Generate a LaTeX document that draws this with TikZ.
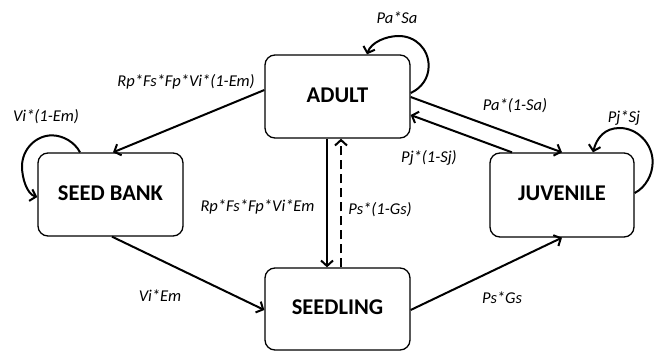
\documentclass[tikz,border=0pt]{standalone}
\usepackage{fontspec}
\setmainfont{Carlito}
\usetikzlibrary{arrows.meta}
\newcommand{\mystatetext}[1]{\raisebox{3pt}{#1}}
\tikzset{
  statebox/.style={draw=black, line width=1.3pt, rounded corners=10pt, fill=white,
    minimum width=145pt, minimum height=83pt, inner sep=0pt,
    font=\fontsize{22.5}{24}\selectfont\bfseries},
  rate/.style={font=\fontsize{16.5}{18}\selectfont\itshape, inner sep=0pt},
  flow/.style={line width=2pt, -{Straight Barb[length=5.5pt,width=12pt]}},
}
\begin{document}
\begin{tikzpicture}[x=1pt,y=-1pt]
\useasboundingbox (0,0) rectangle (657,351);
% boxes
\node[statebox] (adult) at (337.5,96.5) {\mystatetext{ADULT}};
\node[statebox] (seedbank) at (110.5,194.5) {\mystatetext{SEED BANK}};
\node[statebox, minimum width=144pt, minimum height=84pt] (juvenile) at (562,195) {\mystatetext{JUVENILE}};
\node[statebox, minimum height=82pt] (seedling) at (337.5,309) {\mystatetext{SEEDLING}};
% connectors
\draw[flow] ([yshift=6.5pt]adult.west) -- ([xshift=2.5pt]seedbank.north);
\draw[flow] ([yshift=-0.5pt]adult.east) -- (juvenile.north);
\draw[flow] ([xshift=-50pt]juvenile.north) -- ([yshift=-18.5pt]adult.east);
\draw[flow] ([xshift=-10.5pt]adult.south) -- ([xshift=-10.5pt]seedling.north);
\draw[flow, dashed, dash pattern=on 9pt off 5pt] ([xshift=3.5pt]seedling.north) -- ([xshift=3.5pt]adult.south);
\draw[flow] ([xshift=1.5pt]seedbank.south) -- ([yshift=-1pt]seedling.west);
\draw[flow] ([yshift=-1pt]seedling.east) -- (juvenile.south);
% self loops
\draw[flow] ([yshift=3.5pt]adult.east)
   .. controls +(11,-5) and +(0,12) .. ++(18,-27)
   .. controls +(0,-17) and +(17,0) .. ++(-30,-30)
   .. controls +(-12.6,0) and +(4,-12) .. ([xshift=29.5pt]adult.north);
\draw[flow] ([xshift=-30.5pt]seedbank.north)
   .. controls +(-5,-10) and +(11,0) .. ++(-28,-17)
   .. controls +(-16.6,0) and +(0,-16.6) .. ++(-30,31)
   .. controls +(0,11.7) and +(-10.5,-3) .. ([yshift=-2.5pt]seedbank.west);
\draw[flow] ([yshift=2pt]juvenile.east)
   .. controls +(11,-5.5) and +(0,12.4) .. ++(18,-31)
   .. controls +(0,-18) and +(18,0) .. ++(-33,-34)
   .. controls +(-15,0) and +(3.7,-14.5) .. ([xshift=31pt]juvenile.north);
% labels
\node[rate] (lPaSa) at (397,18) {Pa*Sa};
\node[rate, anchor=east] (lRpEm1) at (255,82) {Rp*Fs*Fp*Vi*(1-Em)};
\node[rate] (lViEm1) at (46,117) {Vi*(1-Em)};
\node[rate] (lPaSa2) at (515,106) {Pa*(1-Sa)};
\node[rate] (lPjSj) at (624,118) {Pj*Sj};
\node[rate] (lPjSj2) at (429,158) {Pj*(1-Sj)};
\node[rate] (lRpEm) at (257.5,207) {Rp*Fs*Fp*Vi*Em};
\node[rate] (lPsGs2) at (380,210) {Ps*(1-Gs)};
\node[rate] (lViEm) at (160,296) {Vi*Em};
\node[rate] (lPsGs) at (502,298) {Ps*Gs};
\end{tikzpicture}
\end{document}
